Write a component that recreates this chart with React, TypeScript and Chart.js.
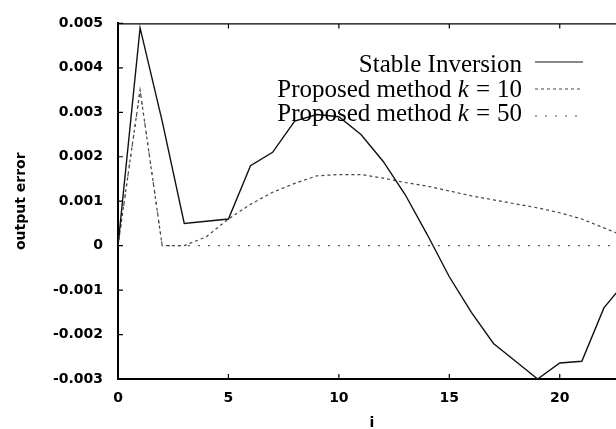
import React, { useEffect, useRef } from "react";
import { Chart, registerables } from "chart.js";

Chart.register(...registerables);

const iValues = [0, 1, 2, 3, 4, 5, 6, 7, 8, 9, 10, 11, 12, 13, 14, 15, 16, 17, 18, 19, 20, 21, 22, 23];
const stableInversion = [
  0, 0.0049, 0.0028, 0.0005, 0.00055, 0.0006, 0.0018, 0.0021, 0.0028, 0.00295, 0.0029, 0.0025,
  0.0019, 0.00115, 0.00025, -0.0007, -0.0015, -0.0022, -0.0026, -0.003, -0.00264, -0.0026, -0.0014, -0.0008,
];
const proposedK10 = [
  0, 0.0035, 0, 0, 0.0002, 0.0006, 0.00093, 0.0012, 0.0014, 0.00157, 0.0016, 0.0016,
  0.00152, 0.00142, 0.00134, 0.00123, 0.00112, 0.00103, 0.00094, 0.00085, 0.00074, 0.0006, 0.0004, 0.0002,
];
const proposedK50 = [
  0, 0.0035, 0, 0, 0, 0, 0, 0, 0, 0, 0, 0,
  0, 0, 0, 0, 0, 0, 0, 0, 0, 0, 0, 0,
];
const seriesNames = ["Stable Inversion", "Proposed method k = 10", "Proposed method k = 50"];
const xTickValues = [0, 5, 10, 15, 20];
const yTickValues = [0.005, 0.004, 0.003, 0.002, 0.001, 0, -0.001, -0.002, -0.003];
const yTickLabels = ["0.005", "0.004", "0.003", "0.002", "0.001", "0", "-0.001", "-0.002", "-0.003"];
const xTitle = "i";
const yTitle = "output error";

const W = 650;
const H = 445;
const TICK_FONT = { family: "'DejaVu Sans', sans-serif", size: 14, weight: "bold" as const };

const styles = [
  { color: "#111", width: 1.4, dash: [] as number[] },
  { color: "#444", width: 1.2, dash: [3, 3] },
  { color: "#555", width: 1.2, dash: [2, 8] },
];

const framePlugin = {
  id: "frame",
  afterDatasetsDraw(chart: any) {
    const { ctx, chartArea } = chart;
    const { left, right, top, bottom } = chartArea;
    const xs = chart.scales.x;
    const ys = chart.scales.y;
    ctx.save();
    ctx.strokeStyle = "#000";
    ctx.lineWidth = 1.2;
    ctx.beginPath();
    ctx.moveTo(left, top + 0.5);
    ctx.lineTo(right, top + 0.5);
    ctx.moveTo(right, top);
    ctx.lineTo(right, bottom);
    for (const v of xTickValues) {
      const px = xs.getPixelForValue(v);
      ctx.moveTo(px, bottom);
      ctx.lineTo(px, bottom - 5);
      ctx.moveTo(px, top);
      ctx.lineTo(px, top + 5);
    }
    for (const v of yTickValues) {
      const py = ys.getPixelForValue(v);
      ctx.moveTo(left, py);
      ctx.lineTo(left + 5, py);
      ctx.moveTo(right, py);
      ctx.lineTo(right - 5, py);
    }
    ctx.stroke();

    // legend
    const textRight = 522;
    const baselines = [72, 96.5, 121];
    const sampleY = [62, 89, 116];
    const roman = "25px 'Liberation Serif', 'Times New Roman', serif";
    const italic = "italic 25px 'Liberation Serif', 'Times New Roman', serif";
    const gap = 7;
    ctx.fillStyle = "#000";
    ctx.textBaseline = "alphabetic";
    ctx.textAlign = "left";
    seriesNames.forEach((name, idx) => {
      const m = name.match(/^(.*) (k) (=) (.*)$/);
      let parts: { t: string; f: string; g: number }[];
      if (m) {
        parts = [
          { t: m[1] + " ", f: roman, g: 0 },
          { t: m[2], f: italic, g: gap },
          { t: m[3], f: roman, g: gap },
          { t: m[4], f: roman, g: 0 },
        ];
      } else {
        parts = [{ t: name, f: roman, g: 0 }];
      }
      let total = 0;
      for (const p of parts) {
        ctx.font = p.f;
        total += ctx.measureText(p.t).width + p.g;
      }
      let x = textRight - total;
      for (const p of parts) {
        ctx.font = p.f;
        ctx.fillText(p.t, x, baselines[idx]);
        x += ctx.measureText(p.t).width + p.g;
      }
      const st = styles[idx];
      ctx.strokeStyle = st.color;
      ctx.lineWidth = 1;
      ctx.setLineDash(st.dash);
      ctx.beginPath();
      ctx.moveTo(535, sampleY[idx]);
      ctx.lineTo(583, sampleY[idx]);
      ctx.stroke();
      ctx.setLineDash([]);
    });
    ctx.restore();
  },
};

export default function App() {
  const ref = useRef<HTMLCanvasElement | null>(null);
  useEffect(() => {
    if (!ref.current) return;
    const series = [stableInversion, proposedK10, proposedK50];
    const chart = new Chart(ref.current, {
      type: "line",
      data: {
        datasets: series.map((vals, idx) => ({
          label: seriesNames[idx],
          data: iValues.map((x, k) => ({ x, y: vals[k] })),
          borderColor: styles[idx].color,
          borderWidth: styles[idx].width,
          borderDash: styles[idx].dash,
          pointRadius: 0,
          tension: 0,
          fill: false,
        })),
      },
      options: {
        responsive: false,
        animation: false,
        devicePixelRatio: 1,
        layout: { padding: { top: 15, right: W - 626, left: 0, bottom: 0 } },
        plugins: { legend: { display: false }, tooltip: { enabled: false } },
        scales: {
          x: {
            type: "linear",
            min: 0,
            max: 23,
            afterBuildTicks: (s: any) => {
              s.ticks = xTickValues.map((v) => ({ value: v }));
            },
            afterFit: (s: any) => {
              s.height = H - 379;
            },
            grid: { display: false, drawTicks: false },
            border: { display: true, color: "#000", width: 2 },
            ticks: { font: TICK_FONT, color: "#000", padding: 11, maxRotation: 0, autoSkip: false },
            title: {
              display: true,
              text: xTitle,
              font: { family: "'DejaVu Sans', sans-serif", size: 14, weight: "bold" },
              color: "#000",
              padding: { top: 0, bottom: 13 },
            },
          },
          y: {
            type: "linear",
            min: -0.003,
            max: 0.005,
            afterBuildTicks: (s: any) => {
              s.ticks = yTickValues.map((v) => ({ value: v }));
            },
            afterFit: (s: any) => {
              s.width = 118;
            },
            grid: { display: false, drawTicks: false },
            border: { display: true, color: "#000", width: 2 },
            ticks: {
              font: TICK_FONT,
              color: "#000",
              padding: 15,
              autoSkip: false,
              callback: (_v: any, index: number) => yTickLabels[index],
            },
            title: {
              display: true,
              text: yTitle,
              font: { family: "'DejaVu Sans', sans-serif", size: 14, weight: "bold" },
              color: "#000",
              padding: { top: 13, bottom: 0 },
            },
          },
        },
      },
      plugins: [framePlugin],
    });
    return () => chart.destroy();
  }, []);

  return (
    <div style={{ position: "absolute", left: 0, top: 0, width: 616, height: 429, overflow: "hidden", background: "#fff" }}>
      <canvas ref={ref} width={W} height={H} style={{ display: "block", width: W, height: H }} />
    </div>
  );
}
